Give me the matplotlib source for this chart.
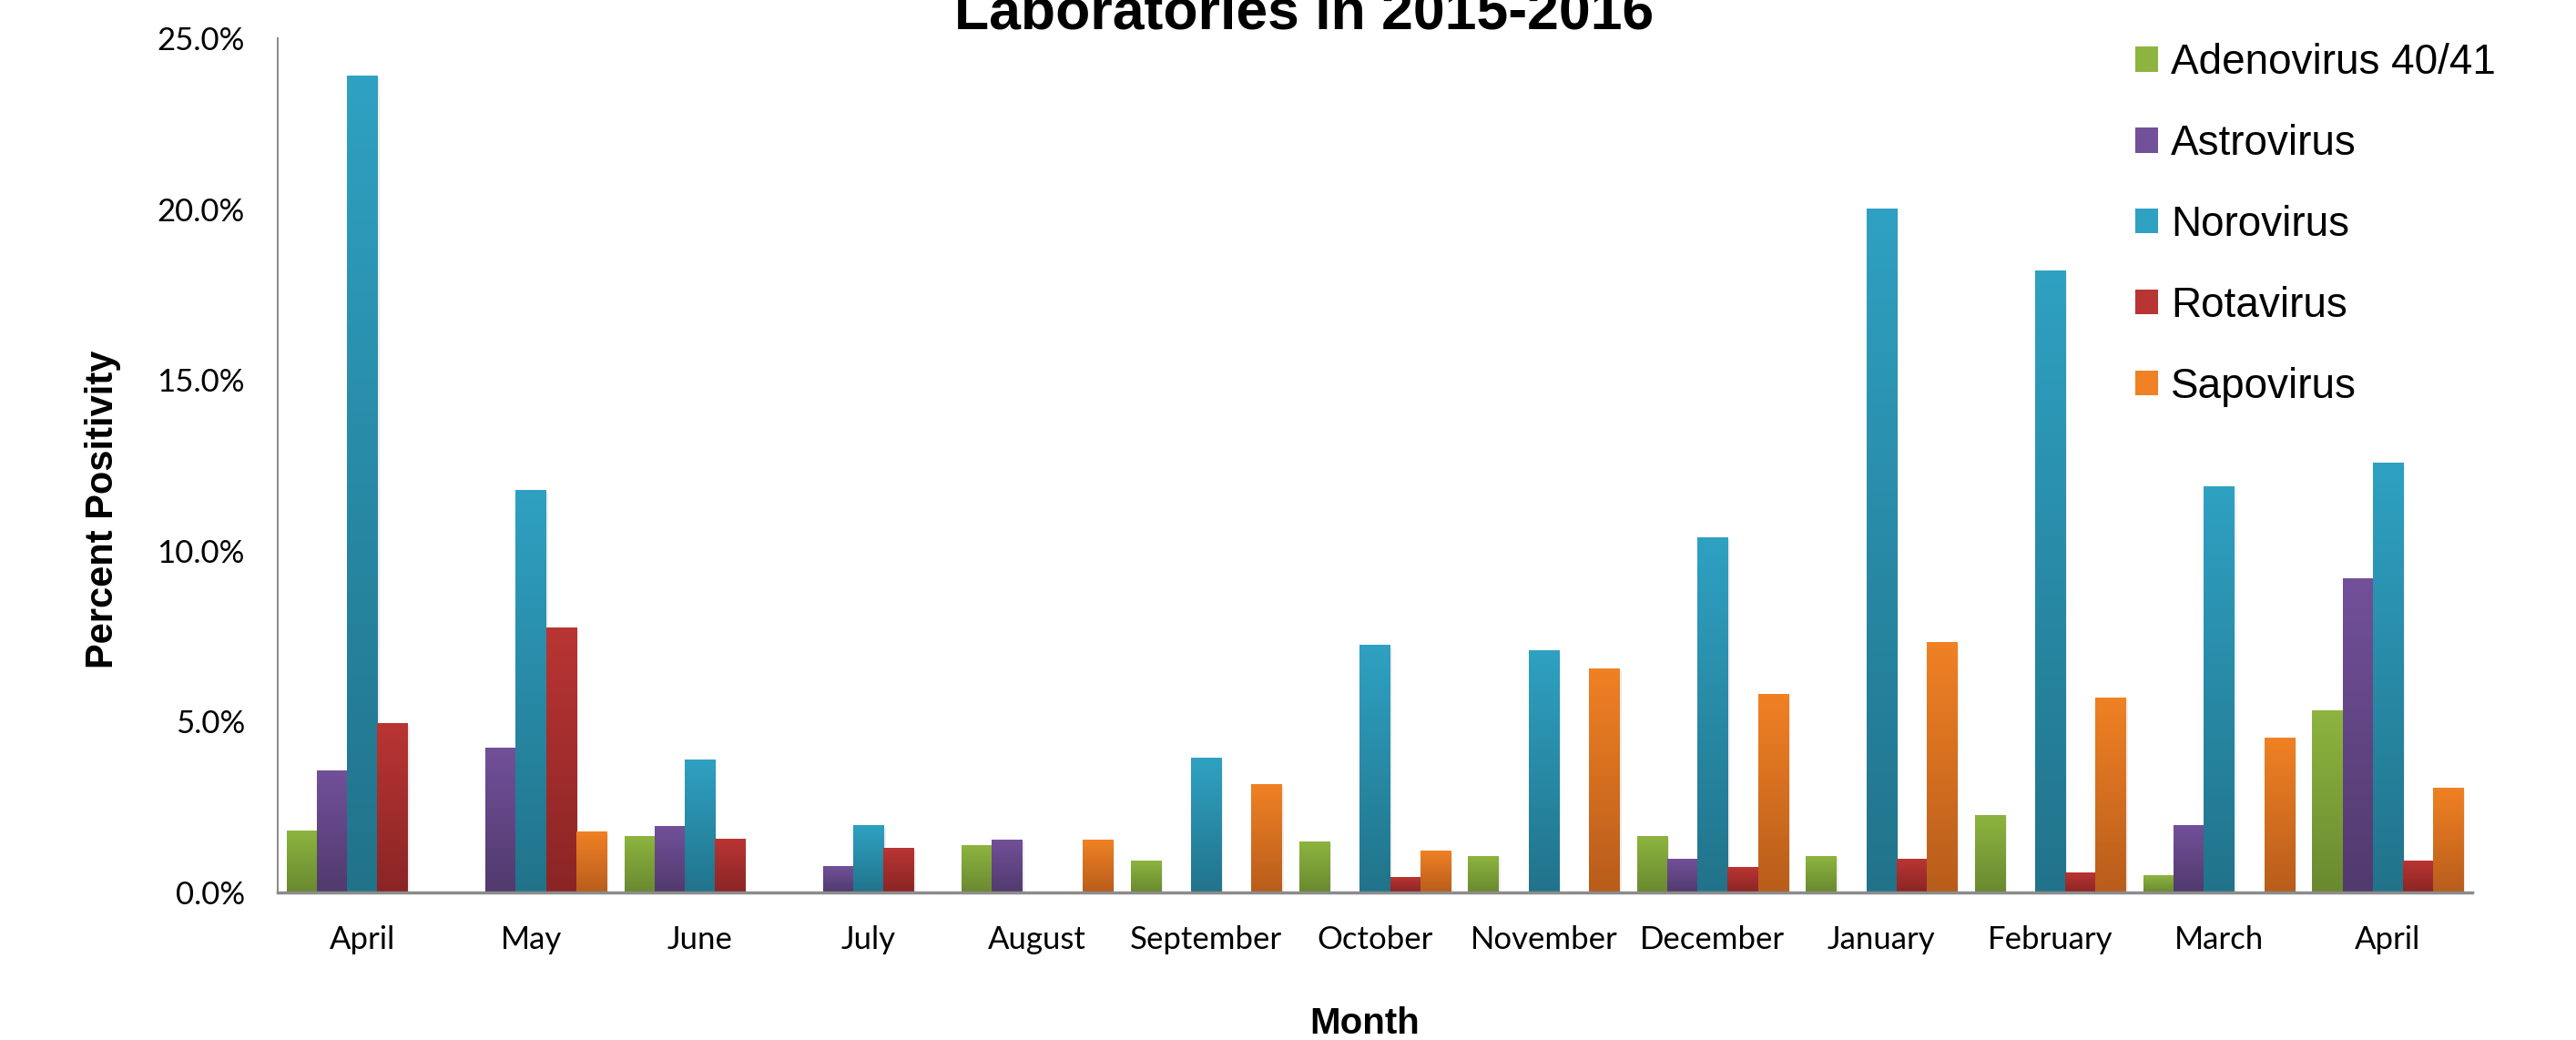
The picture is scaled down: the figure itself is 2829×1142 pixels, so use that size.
import numpy as np
import matplotlib
matplotlib.use("Agg")
import matplotlib.pyplot as plt
from matplotlib.colors import LinearSegmentedColormap
from matplotlib.patches import Patch
from matplotlib.ticker import FuncFormatter

months = ["April", "May", "June", "July", "August", "September", "October",
          "November", "December", "January", "February", "March", "April"]
viruses = ["Adenovirus 40/41", "Astrovirus", "Norovirus", "Rotavirus", "Sapovirus"]

# percent positivity (%), 0 = not shown
adenovirus = [1.8, 0.0, 1.65, 0.0, 1.36, 0.91, 1.49, 1.06, 1.65, 1.06, 2.26, 0.50, 5.31]
astrovirus = [3.57, 4.22, 1.92, 0.77, 1.54, 0.0, 0.0, 0.0, 0.96, 0.0, 0.0, 1.95, 9.17]
norovirus = [23.9, 11.76, 3.89, 1.95, 0.0, 3.92, 7.23, 7.07, 10.38, 20.0, 18.2, 11.87, 12.56]
rotavirus = [4.94, 7.75, 1.57, 1.28, 0.0, 0.0, 0.43, 0.0, 0.74, 0.96, 0.56, 0.0, 0.93]
sapovirus = [0.0, 1.78, 0.0, 0.0, 1.54, 3.15, 1.20, 6.53, 5.81, 7.31, 5.70, 4.53, 3.04]

series = [adenovirus, astrovirus, norovirus, rotavirus, sapovirus]
# (top, bottom) colours of the vertical gradient
grads = [("#8DB43F", "#6A8930"), ("#72509A", "#513A6D"), ("#2FA1C2", "#21738A"),
         ("#B93533", "#8A2525"), ("#F08124", "#B85D1C")]

plt.rcParams["font.family"] = ["Liberation Sans", "DejaVu Sans"]

fig = plt.figure(figsize=(28.29, 11.42), dpi=100)
ax = fig.add_axes([305 / 2829, 1 - 980 / 1142, (2715 - 305) / 2829, (980 - 42) / 1142])

x = np.arange(len(months))
w = 0.179
grad = np.linspace(0, 1, 256).reshape(-1, 1)
for i, (vals, (top, bot)) in enumerate(zip(series, grads)):
    cmap = LinearSegmentedColormap.from_list("g%d" % i, [bot, top])
    pos = x + (i - 2) * w
    bars = ax.bar(pos, np.array(vals) / 100, w, color="none", linewidth=0)
    for b, v in zip(bars, vals):
        if v <= 0:
            continue
        bx, bh = b.get_x(), b.get_height()
        # faint drop shadow, then the gradient fill
        ax.bar(bx + w / 2 + 0.012, bh, w, bottom=-0.0006, color="#000000",
               alpha=0.07, linewidth=0, zorder=1.5)
        ax.imshow(grad, cmap=cmap, origin="lower", aspect="auto",
                  extent=[bx, bx + w, 0, bh], zorder=2, interpolation="bilinear")

ax.set_xlim(-0.5, len(months) - 0.5)
ax.set_ylim(0, 0.25)
ax.set_yticks(np.arange(0, 0.2501, 0.05))
ax.yaxis.set_major_formatter(FuncFormatter(lambda v, p: f"{v * 100:.1f}%"))
ax.set_xticks(x)
ax.set_xticklabels(months)
for lab in ax.get_xticklabels() + ax.get_yticklabels():
    lab.set_family("Lato")
    lab.set_fontsize(25)
ax.tick_params(axis="x", length=0, pad=26)
ax.tick_params(axis="y", length=0, pad=26)
for s in ["top", "right"]:
    ax.spines[s].set_visible(False)
ax.spines["left"].set_color("#8C8C8C")
ax.spines["left"].set_linewidth(1.5)
ax.spines["bottom"].set_color("#8C8C8C")
ax.spines["bottom"].set_linewidth(2.5)
ax.spines["bottom"].set_zorder(3)

fig.text(1432 / 2829, 1 - 32 / 1142, "Laboratories in 2015-2016", ha="center",
         va="baseline", fontsize=45, fontweight="bold")
fig.text(113 / 2829, 1 - 559 / 1142, "Percent Positivity", ha="center", va="center",
         rotation=90, fontsize=30, fontweight="bold")
fig.text(1499 / 2829, 1 - 1135 / 1142, "Month", ha="center", va="baseline",
         fontsize=29, fontweight="bold")

handles = [Patch(facecolor=top, edgecolor="none") for top, bot in grads]
fig.legend(handles, viruses, loc="upper left", bbox_to_anchor=(2345 / 2829, 1 - 47 / 1142),
           frameon=False, fontsize=33, handlelength=0.55, handleheight=0.55,
           handletextpad=0.3, labelspacing=0.98, borderpad=0, borderaxespad=0)

fig.savefig("out.png", dpi=100)
